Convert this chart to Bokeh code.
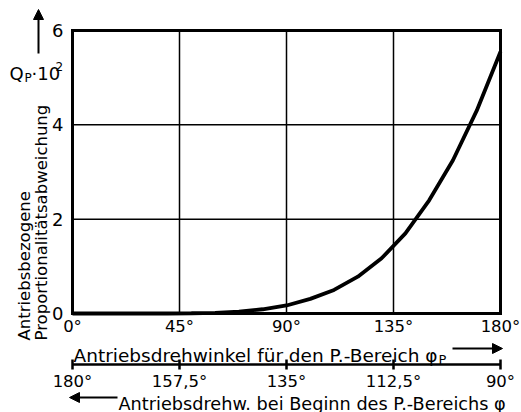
import math
from bokeh.plotting import figure
from bokeh.models import Range1d, LinearAxis, FixedTicker, Label, Arrow, NormalHead
from bokeh.embed import file_html
from bokeh.resources import INLINE

# ---- data ----
angle = [0, 10, 20, 30, 40, 50, 60, 70, 80, 90, 100, 110, 120, 130, 140, 150, 160, 170, 180]
qp = [0, 0, 0, 0, 0, 0.005, 0.015, 0.04, 0.09, 0.17, 0.31, 0.5, 0.78, 1.17, 1.7, 2.4, 3.25, 4.3, 5.55]

x_ticks = [0, 45, 90, 135, 180]
x_tick_labels = ["0°", "45°", "90°", "135°", "180°"]
y_ticks = [0, 2, 4, 6]
phi_ticks = [180, 157.5, 135, 112.5, 90]
phi_tick_labels = ["180°", "157,5°", "135°", "112,5°", "90°"]

FONT = "DejaVu Sans"

# ---- layout (pixels on the canvas) ----
W, H = 521, 412
PX_LEFT, PX_RIGHT = 72, 500      # where x = 0 and x = 180 sit
PX_BOTTOM, PX_TOP = 313, 30      # where y = 0 and y = 6 sit
sx = (x_ticks[-1] - x_ticks[0]) / (PX_RIGHT - PX_LEFT)
sy = (y_ticks[-1] - y_ticks[0]) / (PX_BOTTOM - PX_TOP)


def xd(px):
    return x_ticks[0] + (px - PX_LEFT) * sx


def yd(py):
    return y_ticks[0] + (PX_BOTTOM - py) * sy


def phid(px):
    # secondary scale: 180 at the left edge, 90 at the right edge
    return phi_ticks[0] + (px - PX_LEFT) * (phi_ticks[-1] - phi_ticks[0]) / (PX_RIGHT - PX_LEFT)


p = figure(width=W, height=H,
           x_range=Range1d(xd(0), xd(W)), y_range=Range1d(yd(H), yd(0)),
           x_axis_location=None, y_axis_location=None,
           output_backend="svg", toolbar_location=None,
           min_border=0, min_border_left=0, min_border_right=0,
           min_border_top=0, min_border_bottom=0)
p.background_fill_color = "white"
p.border_fill_color = "white"
p.outline_line_color = None
p.grid.visible = False
p.extra_x_ranges = {"phi": Range1d(phid(0), phid(W))}

# inner grid lines
inner_x = x_ticks[1:-1]
inner_y = y_ticks[1:-1]
p.segment(x0=inner_x, y0=[y_ticks[0]] * len(inner_x), x1=inner_x, y1=[y_ticks[-1]] * len(inner_x),
          line_color="black", line_width=1.5)
p.segment(x0=[x_ticks[0]] * len(inner_y), y0=inner_y, x1=[x_ticks[-1]] * len(inner_y), y1=inner_y,
          line_color="black", line_width=1.5)
# plot box
p.quad(left=x_ticks[0], right=x_ticks[-1], bottom=y_ticks[0], top=y_ticks[-1],
       fill_color=None, line_color="black", line_width=3, line_join="miter")

# curve
p.line(angle, qp, line_color="black", line_width=3.8)

# y axis
ya = LinearAxis(fixed_location=x_ticks[0], ticker=FixedTicker(ticks=y_ticks))
ya.axis_line_color = None
ya.major_tick_line_color = None
ya.minor_tick_line_color = None
ya.major_tick_out = 0
ya.major_tick_in = 0
ya.major_label_standoff = 9
ya.major_label_text_font = FONT
ya.major_label_text_font_size = "18px"
ya.major_label_text_color = "black"
p.add_layout(ya, "left")

# primary x axis
xa = LinearAxis(fixed_location=y_ticks[0], ticker=FixedTicker(ticks=x_ticks))
xa.major_label_overrides = dict(zip(x_ticks, x_tick_labels))
xa.axis_line_color = None
xa.major_tick_line_color = None
xa.minor_tick_line_color = None
xa.major_tick_out = 0
xa.major_tick_in = 0
xa.major_label_standoff = 3
xa.major_label_text_font = FONT
xa.major_label_text_font_size = "16.5px"
xa.major_label_text_color = "black"
p.add_layout(xa, "below")

# secondary x axis
ax2 = LinearAxis(x_range_name="phi", fixed_location=yd(364), ticker=FixedTicker(ticks=phi_ticks),
                 bounds=(min(phi_ticks), max(phi_ticks)))
ax2.major_label_overrides = dict(zip(phi_ticks, phi_tick_labels))
ax2.axis_line_width = 2.5
ax2.axis_line_color = "black"
ax2.major_tick_line_width = 2.5
ax2.major_tick_line_color = "black"
ax2.major_tick_in = 5
ax2.major_tick_out = 5
ax2.minor_tick_line_color = None
ax2.major_label_standoff = 2
ax2.major_label_text_font = FONT
ax2.major_label_text_font_size = "16.5px"
ax2.major_label_text_color = "black"
p.add_layout(ax2, "below")


def lab(text, x, y, size="18px", align="left", baseline="alphabetic", angle_=0):
    p.add_layout(Label(x=x, y=y, text=text, text_font=FONT, text_font_size=size,
                       text_align=align, text_baseline=baseline, angle=angle_,
                       text_color="black"))


def arrow(x0, y0, x1, y1):
    p.add_layout(Arrow(end=NormalHead(size=10, fill_color="black", line_color="black"),
                       x_start=x0, y_start=y0, x_end=x1, y_end=y1,
                       line_width=2, line_color="black"))


# axis titles
lab("Antriebsdrehwinkel für den P.-Bereich φ", xd(73), yd(355), size="18.5px")
lab("P", xd(438), yd(359), size="13px")
arrow(xd(452), yd(348), xd(502), yd(348))

lab("Antriebsdrehw. bei Beginn des P.-Bereichs φ", xd(118), yd(403), size="17.7px")
arrow(xd(117), yd(397), xd(69), yd(397))

lab("Antriebsbezogene", xd(24), yd(340), size="16.5px", angle_=math.pi / 2)
lab("Proportionalitätsabweichung", xd(41), yd(340), size="16.5px", angle_=math.pi / 2)

# Q_P * 10^2
lab("Q", xd(9), yd(73))
lab("P", xd(24), yd(77), size="12px")
lab("·10", xd(31), yd(73))
lab("2", xd(55), yd(66), size="12px")
arrow(xd(38), yd(53), xd(38), yd(9))

open("out.html", "w").write(file_html(p, INLINE))
